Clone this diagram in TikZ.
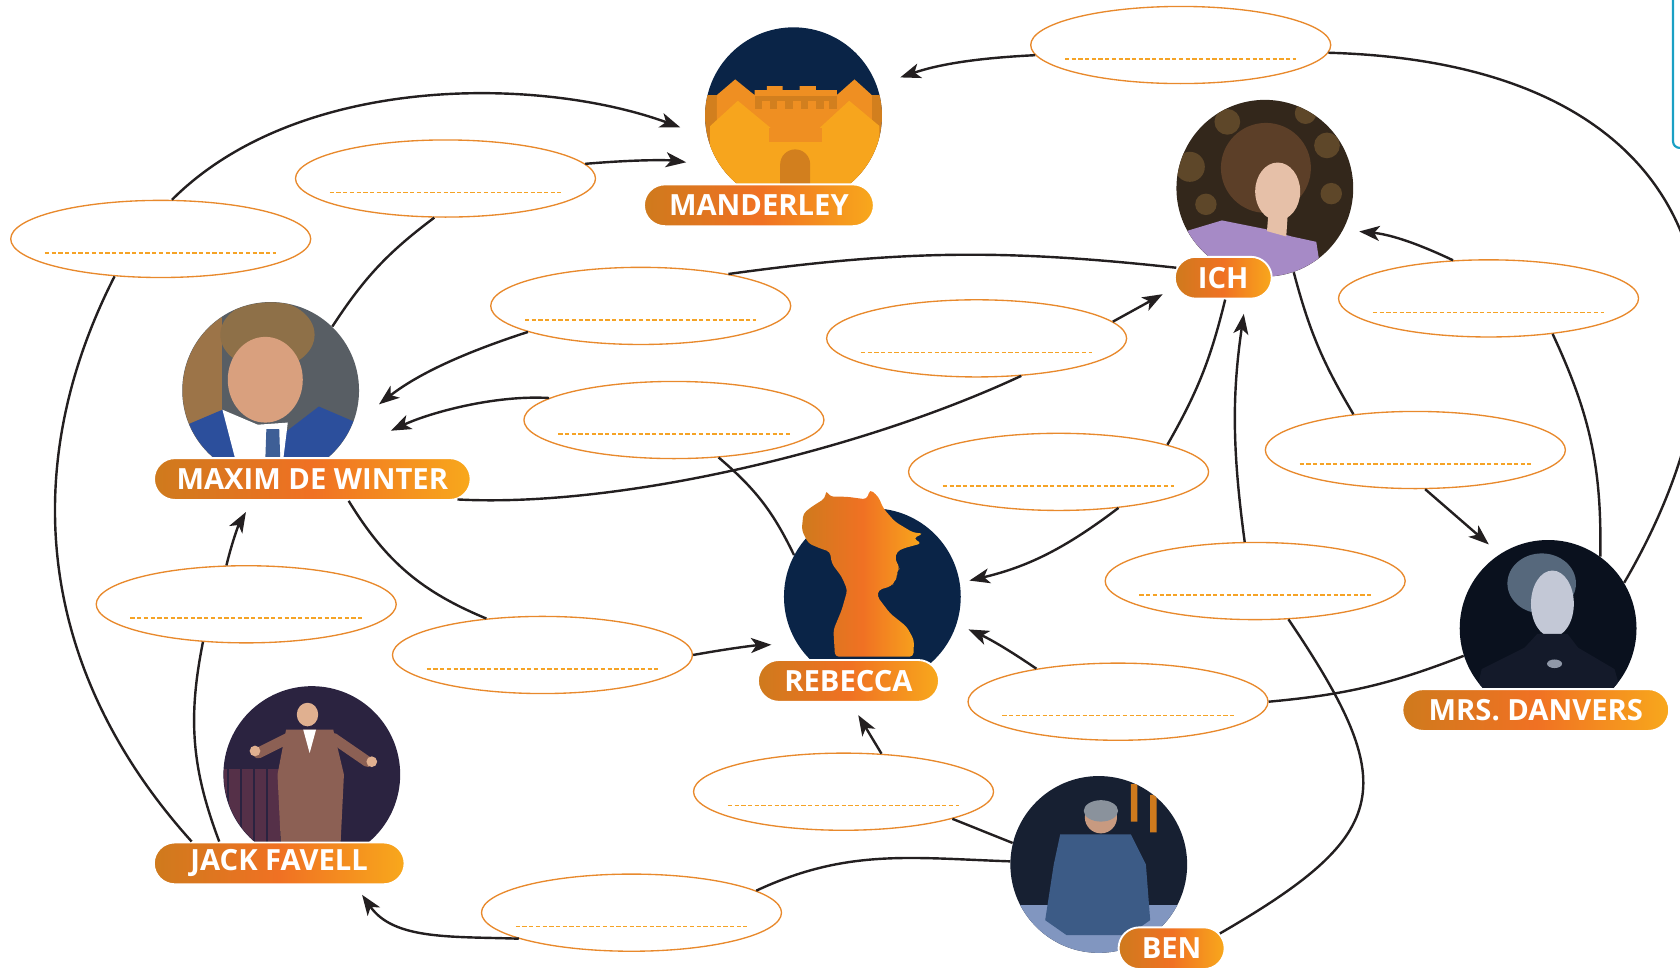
\documentclass[tikz,border=0pt]{standalone}
\usepackage{fontspec}
\setsansfont{Open Sans}
\usetikzlibrary{arrows.meta,shapes.geometric,shapes.misc}

\definecolor{navy}{HTML}{0A2447}
\definecolor{ringorange}{HTML}{E8892C}
\definecolor{dashorange}{HTML}{F5A326}
\definecolor{tagleft}{HTML}{CF7A1D}
\definecolor{tagmid}{HTML}{F07123}
\definecolor{tagright}{HTML}{F8A81C}
\definecolor{linkblack}{HTML}{231F20}
\definecolor{castleyellow}{HTML}{F7A51D}
\definecolor{castlemid}{HTML}{EF8F22}
\definecolor{castledark}{HTML}{D27F1E}
\definecolor{boxteal}{HTML}{1BA0C4}
\definecolor{ichbg}{HTML}{33271B}
\definecolor{ichgold}{HTML}{5E4729}
\definecolor{ichhair}{HTML}{5C3F28}
\definecolor{ichdress}{HTML}{A68AC6}
\definecolor{skin}{HTML}{E6C0A8}
\definecolor{maxbg}{HTML}{585E64}
\definecolor{maxtan}{HTML}{9C7448}
\definecolor{maxhair}{HTML}{8E7048}
\definecolor{maxskin}{HTML}{D9A07E}
\definecolor{maxsuit}{HTML}{2C4F9C}
\definecolor{maxtie}{HTML}{3E5F96}
\definecolor{jackbg}{HTML}{2B2340}
\definecolor{jackshelf}{HTML}{553048}
\definecolor{jacksuit}{HTML}{8C6054}
\definecolor{jackskin}{HTML}{E0B090}
\definecolor{benbg}{HTML}{172032}
\definecolor{benfloor}{HTML}{8196C0}
\definecolor{bensweater}{HTML}{3C5B86}
\definecolor{benskin}{HTML}{C89A80}
\definecolor{benhat}{HTML}{8A929C}
\definecolor{danbg}{HTML}{0A111E}
\definecolor{danhair}{HTML}{56687C}
\definecolor{danface}{HTML}{C3C8D6}
\definecolor{dandress}{HTML}{141A2A}
\definecolor{danbrooch}{HTML}{9098A8}

\tikzset{
	answer/.style={ellipse, draw=ringorange, fill=white, line width=0.25mm, minimum width=56mm, minimum height=14.4mm, inner sep=0pt},
	photo/.style={circle, minimum size=33mm, inner sep=0pt, fill=#1},
	nametag/.style={rounded rectangle, draw=white, line width=0.35mm, left color=tagleft, right color=tagright, middle color=tagmid, text=white, font=\sffamily\bfseries\fontsize{15.5}{15.5}\selectfont, minimum height=7.8mm, minimum width=#1, inner xsep=0pt, inner ysep=0pt},
	relline/.style={draw=linkblack, line width=0.45mm},
	relarrow/.style={relline, -{Stealth[length=3.8mm,width=2.8mm,inset=1mm]}, shorten >=#1},
	dashline/.style={draw=dashorange, line width=0.28mm, dash pattern=on 0.8mm off 0.45mm}
}

\begin{document}
\begin{tikzpicture}[x=0.2mm,y=0.2mm]
		%%%%% START %%%%%
		\useasboundingbox (0,0) rectangle (1568,-904);
		\clip (0,0) rectangle (1568,-904);
		
		\draw[boxteal, line width=0.4mm, rounded corners=1.2mm] (1561.5,5) -- (1561.5,-138) -- (1600,-138);
		
		% pictures
		\node[photo=navy] (mandpic) at (740.6,-108) {};
		\node[photo=ichbg] (ichpic) at (1180.5,-175.7) {};
		\node[photo=maxbg] (maxpic) at (252.6,-364.4) {};
		\node[photo=navy] (rebpic) at (814.2,-556.9) {};
		\node[photo=danbg] (danpic) at (1444.9,-586.5) {};
		\node[photo=jackbg] (jackpic) at (291,-722.9) {};
		\node[photo=benbg] (benpic) at (1025.5,-806.8) {};
		
		\begin{scope}[shift={(mandpic.center)}, scale=0.311]
			\clip (0,0) circle (265.5);
			\fill[castledark] (-270,62) rectangle (270,-270);
			\fill[castlemid] (-230,62) -- (-175,109) -- (-117,62) -- (-117,77) -- (-80,77) -- (-80,89) -- (-33,89) -- (-33,77) -- (18,77) -- (18,89) -- (67,89) -- (67,77) -- (130,77) -- (130,62) -- (183,109) -- (235,62) -- (235,-40) -- (-230,-40) -- cycle;
			\fill[castledark] (-117,59) rectangle (130,44);
			\foreach \x in {-117,-72,-25,22,68,108}
				\fill[castledark] (\x,44) rectangle ++(22,-25);
			\fill[castleyellow] (-250,-270) -- (-250,-31) -- (-167,45) -- (-67,-38) -- (77,-38) -- (167,45) -- (258,-31) -- (258,-270) -- cycle;
			\fill[castlemid] (-73,-38) rectangle (85,-78);
			\fill[castledark] (-40,-230) -- (-40,-146) arc (180:0:45) -- (50,-230) -- cycle;
		\end{scope}
		
		\begin{scope}[shift={(rebpic.center)}, scale=0.311]
			\shade[left color=tagleft, right color=tagright, middle color=tagmid, rounded corners=2pt]
				(-112,-180) -- (-117,-100) -- (-92,-40) -- (-75,20) -- (-92,60) -- (-122,100) -- (-127,135) -- (-157,145) -- (-192,160) -- (-212,200) -- (-207,250) -- (-182,270) -- (-142,295) -- (-139,320) -- (-127,300) -- (-77,300) -- (-17,292) -- (-7,322) -- (18,300) -- (33,265) -- (68,225) -- (123,192) -- (153,190) -- (123,175) -- (148,160) -- (93,145) -- (73,135) -- (68,110) -- (83,88) -- (73,75) -- (75,58) -- (65,45) -- (58,32) -- (18,20) -- (15,0) -- (53,-50) -- (103,-90) -- (125,-130) -- (123,-180) -- cycle;
		\end{scope}
		
		\begin{scope}
			\clip (ichpic.center) circle (82.4);
			\begin{scope}[shift={(ichpic.center)}]
				\fill[ichgold] (-70,20) circle (14) (-55,-15) circle (10) (58,40) circle (12) (62,-5) circle (10) (-35,62) circle (12) (38,70) circle (10);
				\fill[ichhair] (1,19) ellipse (42 and 42);
				\fill[ichdress] (-95,-95) -- (-80,-42) -- (-40,-30) -- (0,-38) -- (25,-45) -- (48,-50) -- (55,-95) -- cycle;
				\fill[skin] (4,-15) -- (22,-15) -- (20,-45) -- (2,-40) -- cycle;
				\fill[skin] (12,-3) ellipse (21 and 27);
			\end{scope}
		\end{scope}
		
		\begin{scope}
			\clip (maxpic.center) circle (82.2);
			\begin{scope}[shift={(maxpic.center)}]
				\fill[maxtan] (-90,-90) rectangle (-45,90);
				\fill[maxhair] (-3,52) ellipse (44 and 32);
				\fill[maxskin] (-5,10) ellipse (35 and 40);
				\fill[maxsuit] (-95,-95) -- (-85,-35) -- (-45,-18) -- (-15,-35) -- (15,-38) -- (45,-15) -- (80,-30) -- (95,-95) -- cycle;
				\fill[white] (-45,-18) -- (-12,-32) -- (16,-30) -- (8,-95) -- (-25,-95) -- cycle;
				\fill[maxtie] (-4,-36) -- (8,-36) -- (10,-95) -- (-6,-95) -- cycle;
			\end{scope}
		\end{scope}
		
		\begin{scope}
			\clip (jackpic.center) circle (82);
			\begin{scope}[shift={(jackpic.center)}]
				\fill[jackshelf] (-85,-85) rectangle (-30,5);
				\foreach \x in {-78,-66,-54,-42}
					\draw[jackbg, line width=0.3mm] (\x,-85) -- (\x,5);
				\fill[jacksuit] (-24,42) -- (20,42) -- (30,0) -- (26,-82) -- (-28,-82) -- (-32,0) -- cycle;
				\draw[jacksuit, line width=2mm, line cap=round] (-22,34) -- (-50,20);
				\draw[jacksuit, line width=2mm, line cap=round] (20,34) -- (52,12);
				\fill[jackskin] (-53,22) circle (5) (56,12) circle (5);
				\fill[white] (-8,42) -- (4,42) -- (-2,20) -- cycle;
				\fill[jackskin] (-4,56) ellipse (10 and 11);
			\end{scope}
		\end{scope}
		
		\begin{scope}
			\clip (benpic.center) circle (82.5);
			\begin{scope}[shift={(benpic.center)}]
				\fill[benfloor] (-90,-90) rectangle (90,-38);
				\fill[tagleft] (30,75) rectangle (36,40) (48,65) rectangle (54,30);
				\fill[bensweater] (-36,28) -- (30,28) -- (44,0) -- (48,-52) -- (28,-66) -- (-30,-66) -- (-50,-52) -- (-42,0) -- cycle;
				\fill[benskin] (2,44) circle (15);
				\fill[benhat] (2,50) ellipse (16 and 10);
			\end{scope}
		\end{scope}
		
		\begin{scope}
			\clip (danpic.center) circle (82.5);
			\begin{scope}[shift={(danpic.center)}]
				\fill[danhair] (-6,42) ellipse (32 and 28);
				\fill[danface] (4,23) ellipse (20 and 31);
				\fill[dandress] (-75,-95) -- (-62,-38) -- (-22,-18) -- (-10,-5) -- (18,-5) -- (28,-18) -- (62,-38) -- (78,-95) -- cycle;
				\fill[danbrooch] (6,-33) ellipse (7 and 4);
			\end{scope}
		\end{scope}
		
		% names
		\node[nametag=42.9mm] (mand) at (708.3,-191.6) {MANDERLEY};
		\node[nametag=18.1mm] (ich) at (1141.7,-259.2) {ICH};
		\node[nametag=59.1mm] (maxim) at (291.5,-447.1) {MAXIM DE WINTER};
		\node[nametag=33.8mm] (reb) at (791.9,-635.5) {REBECCA};
		\node[nametag=49.8mm] (dan) at (1433.4,-662.7) {MRS. DANVERS};
		\node[nametag=46.8mm] (jack) at (260.6,-805.8) {JACK FAVELL};
		\node[nametag=19.8mm] (ben) at (1093.5,-885) {BEN};
		
		% answer fields
		\node[answer] (e1) at (1102,-42) {};
		\node[answer] (e2) at (415.8,-166.6) {};
		\node[answer] (e3) at (150,-223) {};
		\node[answer] (e4) at (598,-285.5) {};
		\node[answer] (e5) at (911.5,-315.8) {};
		\node[answer] (e6) at (1389.3,-278.5) {};
		\node[answer] (e7) at (629,-392) {};
		\node[answer] (e8) at (988,-440.4) {};
		\node[answer] (e9) at (1321,-420) {};
		\node[answer] (e10) at (1171.5,-542.3) {};
		\node[answer] (e11) at (229.8,-564) {};
		\node[answer] (e12) at (506.3,-611.3) {};
		\node[answer] (e13) at (1043.5,-654.9) {};
		\node[answer] (e14) at (787.3,-738.9) {};
		\node[answer] (e15) at (589.4,-851.8) {};
		\foreach \i in {1,...,15}
			\draw[dashline] ([xshift=-21.6mm,yshift=-2.6mm]e\i.center) -- ([xshift=21.6mm,yshift=-2.6mm]e\i.center);
		
		% Mrs. Danvers - Manderley
		\draw[relline] (danpic.31) .. controls +(142,243) and +(359,-10) .. (e1.357);
		\draw[relarrow=4.6mm] (e1.184) to[bend right=8] (mandpic.20);
		
		% Jack - Manderley
		\draw[relline] (jack.166) to[out=132,in=-117] (e3.219);
		\draw[relarrow=5.4mm] (e3.74) to[out=45,in=160,looseness=0.85] (mandpic.194);
		
		% Maxim - Manderley
		\draw[relline] (maxpic.46) to[bend left=10] (e2.254);
		\draw[relarrow=6.5mm] (e2.6) to[bend left=6] (mandpic.215);
		
		% Ich - Maxim
		\draw[relline] (ich.168) to[bend right=7] (e4.20);
		\draw[relarrow=6.3mm] (e4.193) to[bend right=10] (maxpic.-23);
		
		% Maxim - Ich
		\draw[relline] (maxim.-8) .. controls +(150,-8) and +(-150,-70) .. (e5.320);
		\draw[relarrow=2.8mm] (e5.7) -- (ich.191);
		
		% Rebecca - Maxim
		\draw[relline] (rebpic.152) to[bend right=12] (e7.320);
		\draw[relarrow=11.8mm] (e7.170) .. controls +(-50,3) and +(91,42) .. (maxim.46);
		
		% Ich - Rebecca
		\draw[relline] (ich.-85) to[bend left=8] (e8.14);
		\draw[relarrow=1.8mm] (e8.329) to[bend left=12] (rebpic.9);
		
		% Ich - Mrs. Danvers
		\draw[relline] (ichpic.-71) to[bend right=8] (e9.150);
		\draw[relarrow=2.7mm] (e9.284) -- (danpic.123);
		
		% Mrs. Danvers - Ich
		\draw[relline] (danpic.54) to[out=89,in=-65] (e6.331);
		\draw[relarrow=3mm] (e6.133) to[bend right=10] (ichpic.-28);
		
		% Ben - Ich
		\draw[relline] (ben.17) to[out=30,in=-56,looseness=1.6] (e10.311);
		\draw[relarrow=2.7mm] (e10.105) to[bend left=8] (ich.-44);
		
		% Ben - Rebecca
		\draw[relline] (benpic.166) -- (e14.346);
		\draw[relarrow=2.7mm] (e14.45) -- (reb.-84);
		
		% Mrs. Danvers - Rebecca
		\draw[relline] (danpic.198) to[bend left=8] (e13.0);
		\draw[relarrow=2.4mm] (e13.158) to[bend right=5] (rebpic.-18);
		
		% Maxim - Rebecca
		\draw[relline] (maxim.-31) to[bend right=18] (e12.147);
		\draw[relarrow=4.8mm] (e12.0) to[bend left=4] (rebpic.212);
		
		% Jack - Maxim
		\draw[relline] (jack.160) to[bend left=16] (e11.221);
		\draw[relarrow=2.4mm] (e11.117) to[bend left=8] (maxim.200);
		
		% Ben - Jack
		\draw[relline] (benpic.178) to[out=178,in=25] (e15.10);
		\draw[relarrow=2.2mm] (e15.193) to[out=178,in=-55] (jack.-16);
		
		%%%%% END %%%%%
\end{tikzpicture}
\end{document}
